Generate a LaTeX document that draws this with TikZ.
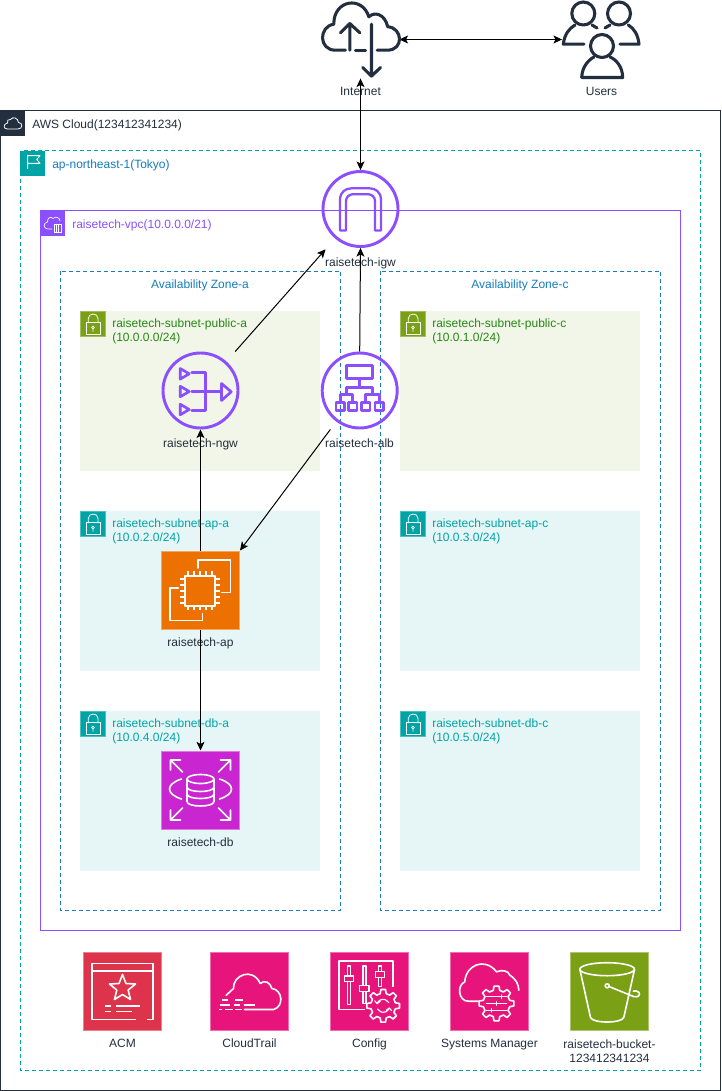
\documentclass[tikz,border=0pt]{standalone}
\usepackage{fontspec}
\setmainfont{Liberation Sans}
\usetikzlibrary{arrows.meta,calc}
\definecolor{ink}{HTML}{232F3E}
\definecolor{teal}{HTML}{00A4A6}
\definecolor{azblue}{HTML}{147EBA}
\definecolor{vpcp}{HTML}{8C4FFF}
\definecolor{pubg}{HTML}{7AA116}
\definecolor{pubt}{HTML}{248814}
\definecolor{pubf}{HTML}{F2F6E8}
\definecolor{prif}{HTML}{E6F6F7}
\definecolor{ec2c}{HTML}{ED7100}
\definecolor{rdsc}{HTML}{C925D1}
\definecolor{acmc}{HTML}{DD344C}
\definecolor{mgmt}{HTML}{E7157B}
\tikzset{
  txt/.style={font=\fontsize{9}{10.5}\selectfont,inner sep=0pt,align=left},
  lab/.style={txt,text=ink,align=center,anchor=base,yshift=-3.2pt},
  hdr/.style={txt,anchor=base west,yshift=-3.2pt},
  azl/.style={txt,text=azblue,anchor=base,yshift=-3.2pt},
  cont/.style={line width=0.75pt},
  subbox/.style={rectangle,inner sep=0pt,anchor=north west},
  badge/.style={rectangle,inner sep=0pt,minimum size=18.75pt,anchor=north west},
  svc/.style={rectangle,inner sep=0pt,minimum size=58.5pt,draw=#1!62!white,fill=#1,line width=0.75pt},
  ghost/.style={rectangle,inner sep=0pt,minimum size=58pt},
  wl/.style={draw=white,line width=1.2pt,line join=round,line cap=round},
  wt/.style={draw=white,line width=0.55pt,line join=round},
  pl/.style={draw=vpcp,line width=2pt,line join=round,line cap=round},
  dk/.style={draw=ink,line width=2.3pt,line join=round,line cap=round},
  conn/.style={draw=black,line width=0.75pt},
  tip/.style={{Stealth[length=6.5pt,width=6pt,inset=1.6pt]}-},
  pit/.style={-{Stealth[length=6.5pt,width=6pt,inset=1.6pt]}},
  both/.style={{Stealth[length=6.5pt,width=6pt,inset=1.6pt]}-{Stealth[length=6.5pt,width=6pt,inset=1.6pt]}},
}
\newcommand{\locksym}{%
  \draw[wt] (6,11.7) rectangle (20,23.3);
  \draw[wt] (8.3,11.7) -- (8.3,7.5) .. controls (8.3,1.5) and (18,1.5) .. (18,7.5) -- (18,11.7);
  \draw[wt] (13,16.5) circle[radius=1.4] (13,18) -- (13,20.5);
}
\newcommand{\subnet}[8]{% x, y, id, fill, badge, text colour, name, cidr
  \node[subbox,minimum width=180pt,minimum height=119.6pt,fill=#4] (#3) at (#1,#2) {};
  \node[badge,fill=#5,draw=#5!70!white,line width=0.4pt] (#3b) at (#1,#2) {};
  \begin{scope}[shift={(#1,#2)}]\locksym\end{scope}
  \node[txt,anchor=west,yshift=-0.5pt,text=#6] (#3t) at ($(#1,#2)+(32,20)$) {#7\\#8};
}
\begin{document}
\begin{tikzpicture}[x=0.75pt,y=-0.75pt]
\useasboundingbox (0,0) rectangle (721,1091);
\fill[white] (0,0) rectangle (721,1091);

% containers
\draw[cont,draw=ink] (0.5,111) rectangle (720.5,1090.5);
\node[badge,fill=ink] (cloudb) at (0,111) {};
\draw[wt,line width=0.6pt] (7.5,129) -- (18,129) .. controls (23,129) and (23,122.5) .. (18.5,122.5)
  .. controls (18,118) and (13,116) .. (10.5,119.5) .. controls (8,118.5) and (7,121) .. (7.5,123)
  .. controls (3,124) and (3,129) .. (7.5,129) -- cycle;
\node[hdr,text=ink] (cloudt) at (32,124) {AWS Cloud(123412341234)};

\draw[cont,draw=teal,dash pattern=on 3pt off 2.25pt] (20.5,151) rectangle (700.5,1070.5);
\node[badge,fill=teal] (regionb) at (20,151) {};
\draw[wt,line width=0.7pt] (27.7,169) -- (27.7,155) (27.7,155.7) -- (40,155.7) -- (36.7,159.5) -- (40,163.3) -- (27.7,163.3);
\node[hdr,text=azblue] (regiont) at (52,164) {ap-northeast-1(Tokyo)};

\draw[cont,draw=vpcp] (40.5,211) rectangle (680.5,930.5);
\node[badge,fill=vpcp] (vpcb) at (40,211) {};
\draw[wt,line width=0.5pt] (52,229) -- (48,229) .. controls (43,229) and (43,222.5) .. (47.5,222)
  .. controls (47,218) and (51,216) .. (53,218.5) .. controls (56,215.5) and (60,218) .. (60,221);
\draw[wt,line width=0.5pt] (54,224) rectangle (61,232) (56.3,224) -- (56.3,232) (58.7,224) -- (58.7,232);
\node[hdr,text=vpcp] (vpct) at (72,224) {raisetech-vpc(10.0.0.0/21)};

\draw[cont,draw=azblue,dash pattern=on 3pt off 2.25pt] (60.5,271) rectangle (340.5,910.5);
\draw[cont,draw=azblue,dash pattern=on 3pt off 2.25pt] (380.5,271) rectangle (660.5,910.5);
\node[azl] (aza) at (200,284) {Availability Zone-a};
\node[azl] (azc) at (520,284) {Availability Zone-c};

\subnet{80}{311}{spa}{pubf}{pubg}{pubt}{raisetech-subnet-public-a}{(10.0.0.0/24)}
\subnet{400}{311}{spc}{pubf}{pubg}{pubt}{raisetech-subnet-public-c}{(10.0.1.0/24)}
\subnet{80}{511}{saa}{prif}{teal}{teal}{raisetech-subnet-ap-a}{(10.0.2.0/24)}
\subnet{400}{511}{sac}{prif}{teal}{teal}{raisetech-subnet-ap-c}{(10.0.3.0/24)}
\subnet{80}{711}{sda}{prif}{teal}{teal}{raisetech-subnet-db-a}{(10.0.4.0/24)}
\subnet{400}{711}{sdc}{prif}{teal}{teal}{raisetech-subnet-db-c}{(10.0.5.0/24)}

% labels
\node[lab] (inetl) at (360.5,91) {Internet};
\node[lab] (usersl) at (601.5,91) {Users};
\node[lab] (igwl) at (360.5,262) {raisetech-igw};
\node[lab] (ngwl) at (200.5,443) {raisetech-ngw};
\node[lab] (albl) at (359.5,443) {raisetech-alb};
\node[lab] (apl) at (200.5,642) {raisetech-ap};
\node[lab] (dbl) at (200.5,842) {raisetech-db};
\node[lab] (acml) at (122.5,1043) {ACM};
\node[lab] (ctl) at (249.5,1043) {CloudTrail};
\node[lab] (cfgl) at (369.5,1043) {Config};
\node[lab] (ssml) at (489.5,1043) {Systems Manager};
\node[txt,text=ink,align=center] (s3l) at (609.5,1050.8) {raisetech-bucket-\\123412341234};

% service anchors and icons
\node[ghost] (inet) at (360.5,39.5) {};
\node[ghost] (users) at (601,39.5) {};
\node[ghost] (igw) at (360.5,209) {};
\node[ghost] (ngw) at (200.5,390.5) {};
\node[ghost] (alb) at (359.7,390.5) {};
\node[svc=ec2c] (ap) at (200.5,590) {};
\node[svc=rdsc] (db) at (200.5,790) {};
\node[svc=acmc] (acm) at (122.5,991.5) {};
\node[svc=mgmt] (ct) at (249.5,991.5) {};
\node[svc=mgmt] (cfg) at (369.5,991.5) {};
\node[svc=mgmt] (ssm) at (489.5,991.5) {};
\node[svc=pubg] (s3) at (609.5,991.5) {};

% connectors
\draw[conn,both] (inet.south) -- (igw.north);
\draw[conn,both] (inet.east) -- (users.west);
\draw[conn,pit] (alb.north) -- (igw.south);
\draw[conn,pit] ([xshift=-3.2pt]ngw.north east) -- ([xshift=3pt,yshift=-1pt]igw.south west);
\draw[conn,pit] ([xshift=7.2pt]alb.south west) -- (ap.north east);
\draw[conn,tip] (ngw.south) -- (ap.north);
\draw[conn,pit] (ap.south) -- (db.north);

% internet
\begin{scope}[shift={(inet.center)}]
\draw[dk] (-15,10.7) -- (-25,10.7) .. controls (-42,10.7) and (-42,-13) .. (-26.7,-15.3)
  .. controls (-27,-40) and (2,-44) .. (8.3,-22.7) .. controls (14,-28) and (24,-26) .. (27.3,-12.7)
  .. controls (42,-12) and (44,10.7) .. (26.7,10.7) -- (16.7,10.7);
\draw[dk] (-5,10.7) -- (5,10.7);
\draw[dk] (-10.7,10.7) -- (-10.7,-16) (-20,-6.7) -- (-10.7,-16) -- (-0.7,-6.7);
\draw[dk] (11,-15.3) -- (11,36.7) (2.3,28) -- (11,36.7) -- (20,28);
\end{scope}

% users
\begin{scope}[shift={(users.center)}]
\draw[dk] (-17.7,-26) circle[radius=11.5];
\draw[dk] (18,-26) circle[radius=11.5];
\draw[dk] (1,6.5) circle[radius=11.5];
\draw[dk] (-17,4.7) -- (-37.7,4.7) .. controls (-36.5,-5) and (-32,-11) .. (-26,-14.5);
\draw[dk] (-9,-14.5) -- (-4,-11.5);
\draw[dk] (9,-14.5) -- (4,-11.5);
\draw[dk] (27.3,-14.5) .. controls (33,-11) and (37,-5) .. (38,4.7) -- (19,4.7);
\draw[dk] (-19.3,38) .. controls (-19,27) and (-12,20) .. (-7,17.5) (9,17.5) .. controls (15,20) and (21.5,27) .. (21.7,38) -- (-19.3,38);
\end{scope}

% igw
\draw[pl,line width=2.2pt] (igw.center) circle[radius=37.5];
\begin{scope}[shift={(igw.center)}]
\draw[pl,line width=1.7pt] (-20.5,21.5) -- (-20.5,-9) .. controls (-20.5,-17) and (-15,-20.7) .. (-9,-20.7) -- (9,-20.7)
  .. controls (15,-20.7) and (20.5,-17) .. (20.5,-9) -- (20.5,21.5) -- (14.5,21.5) -- (14.5,-8)
  .. controls (14.5,-12) and (11,-14.7) .. (8,-14.7) -- (-8,-14.7) .. controls (-11,-14.7) and (-14.5,-12) .. (-14.5,-8)
  -- (-14.5,21.5) -- cycle;
\end{scope}

% ngw
\draw[pl,line width=2.2pt] (ngw.center) circle[radius=37.5];
\begin{scope}[shift={(ngw.center)}]
\foreach \yy in {-16.7,1,19} {
  \draw[pl] (-20.3,{\yy-5.3}) -- (-20.3,{\yy+5.3}) -- (-11.3,\yy) -- cycle;
}
\draw[pl] (-8.7,-17.7) -- (4.7,-17.7) -- (4.7,19.7) -- (-8.7,19.7) (-8.7,1.3) -- (21,1.3);
\draw[pl] (21,-7) -- (21,10) -- (30.7,1.3) -- cycle;
\end{scope}

% alb
\draw[pl,line width=2.2pt] (alb.center) circle[radius=37.5];
\begin{scope}[shift={(alb.center)}]
\draw[pl] (-13,-25) rectangle (13,-12);
\draw[pl] (0,-12) -- (0,-3) (-13,4) -- (-13,-3) -- (13,-3) -- (13,4);
\draw[pl] (-19.3,12) -- (-19.3,4) -- (-7,4) -- (-7,12);
\draw[pl] (6,12) -- (6,4) -- (19.7,4) -- (19.7,12);
\foreach \xx in {-19.3,-7,6,19.7} {
  \draw[pl] ({\xx-4.3},12) rectangle ({\xx+4.3},20);
}
\end{scope}

% ec2
\begin{scope}[shift={(ap.center)}]
\draw[wl] (-2.3,-22) -- (-2.3,-30.3) -- (30,-30.3) -- (30,2.3) -- (21,2.3);
\draw[wl] (-22.3,-2.3) -- (-30.7,-2.3) -- (-30.7,30.3) -- (2,30.3) -- (2,23.7);
\draw[wl] (-15.7,-14.3) rectangle (14.3,15.7);
\foreach \t in {-12.7,-6.7,-0.7,5.3,11.3} {
  \draw[wl,line cap=butt] (\t,-14.3) -- (\t,-19) (\t,15.7) -- (\t,20.4);
  \draw[wl,line cap=butt] (-15.7,{\t+1.7}) -- (-20.4,{\t+1.7}) (14.3,{\t+1.7}) -- (19,{\t+1.7});
}
\end{scope}

% rds
\begin{scope}[shift={(db.center)}]
\draw[wl] (-18,-18) -- (-30,-30) (-30,-20) -- (-30,-30) -- (-20,-30);
\draw[wl] (18,-18) -- (30,-30) (30,-20) -- (30,-30) -- (20,-30);
\draw[wl] (-18,18) -- (-30,30) (-30,20) -- (-30,30) -- (-20,30);
\draw[wl] (18,18) -- (30,30) (30,20) -- (30,30) -- (20,30);
\draw[wl] (-19,-11) .. controls (-35,-6) and (-35,4) .. (-19,9);
\draw[wl] (19,-11) .. controls (35,-6) and (35,4) .. (19,9);
\draw[wl] (0,-11) ellipse[x radius=13.5,y radius=4.5];
\draw[wl] (-13.5,-11) -- (-13.5,11.5) .. controls (-13.5,17.5) and (13.5,17.5) .. (13.5,11.5) -- (13.5,-11);
\draw[wl] (-13.5,-3) .. controls (-13.5,3) and (13.5,3) .. (13.5,-3);
\draw[wl] (-13.5,4) .. controls (-13.5,10) and (13.5,10) .. (13.5,4);
\end{scope}

% acm
\begin{scope}[shift={(acm.center)}]
\draw[wl,line cap=butt] (13.3,28) -- (-30.7,28) -- (-30.7,-28) -- (30.3,-28) -- (30.3,28) -- (24.3,28);
\draw[wl,line cap=butt] (-30.7,-20.3) -- (30.3,-20.3);
\draw[wl,line cap=butt] (0,-17) -- (3.5,-8) -- (13,-7.5) -- (5.7,-1.5) -- (8,8) -- (0,3) -- (-8,8) -- (-5.7,-1.5) -- (-13,-7.5) -- (-3.5,-8) -- cycle;
\draw[wl,line cap=butt] (-17.3,14.3) -- (-11.7,14.3) (-6.3,14.3) -- (17.7,14.3);
\draw[wl,line cap=butt] (-17.3,20) -- (-11.7,20) (-6.3,20) -- (9.3,20);
\end{scope}

% cloudtrail
\begin{scope}[shift={(ct.center)}]
\draw[wl] (-23.3,3.7) -- (-16,-3) .. controls (-17,-16) and (3,-25) .. (10.7,-8)
  .. controls (15,-12) and (21,-9) .. (22.3,-3) .. controls (33,-2) and (35,15) .. (24,18) -- (-5,18);
\draw[wl,line cap=butt] (-27.7,8.7) -- (-22,8.7) (-14.3,8.7) -- (-6.7,8.7);
\draw[wl,line cap=butt] (-30,13.3) -- (-19.3,13.3) (-16,13.3) -- (-10,13.3) (-6,13.3) -- (5.7,13.3);
\draw[wl,line cap=butt] (-31,18) -- (-27.7,18) (-24.3,18) -- (-16.7,18) (-14.3,18) -- (-7.7,18);
\end{scope}

% config
\begin{scope}[shift={(cfg.center)}]
\draw[wl,line cap=butt] (-4.7,18) -- (-30.7,18) -- (-30.7,-30.3) -- (23.7,-30.3) -- (23.7,-4.7);
\draw[wl,line cap=butt] (-22,-25.5) rectangle (-19,-15.5) (-22,-10) rectangle (-19,13);
\draw[wl,line cap=butt] (-25,-15.5) rectangle (-16,-10);
\draw[wl,line cap=butt] (-6.8,-25.5) rectangle (-3.8,-6) (-6.8,0) rectangle (-3.8,12);
\draw[wl,line cap=butt] (-10,-6) rectangle (-0.6,0);
\draw[wl,line cap=butt] (8.8,-25.5) rectangle (11.8,-20) (8.8,-14) rectangle (11.8,-5);
\draw[wl,line cap=butt] (5.8,-20) rectangle (14.8,-14);
\begin{scope}[shift={(13.7,14.3)}]
\filldraw[wl,fill=mgmt] (-8:16.5)
  \foreach \a in {0,45,...,315} { -- ({\a-8}:16.5) -- ({\a+8}:16.5) -- ({\a+14}:12.5) -- ({\a+31}:12.5) } -- cycle;
\draw[wl,line width=0.85pt] (200:6.5) arc[start angle=200,end angle=330,radius=6.5];
\draw[wl,line width=0.85pt] (20:6.5) arc[start angle=20,end angle=150,radius=6.5];
\draw[wl,line width=0.85pt] (-8.5,-5) -- (-6.1,-2.2) -- (-3,-4.5);
\draw[wl,line width=0.85pt] (8.5,5) -- (6.1,2.2) -- (3,4.5);
\end{scope}
\end{scope}

% systems manager
\begin{scope}[shift={(ssm.center)}]
\draw[wl] (-11.3,9.7) -- (-21.3,9.7) .. controls (-31,9.7) and (-33,-6) .. (-24.7,-9.7)
  .. controls (-24,-26) and (-5,-35) .. (7,-19.7) .. controls (12,-22) and (19,-21) .. (20.3,-16.3)
  .. controls (27,-12) and (29,-7) .. (29.3,-1.3);
\begin{scope}[shift={(7,12)}]
\filldraw[wl,fill=mgmt] (-8:17.5)
  \foreach \a in {0,45,...,315} { -- ({\a-8}:17.5) -- ({\a+8}:17.5) -- ({\a+14}:13.5) -- ({\a+31}:13.5) } -- cycle;
\draw[wl,line width=0.85pt] (-10,-6.7) -- (10,-6.7) (-10,0) -- (10,0) (-10,6.7) -- (10,6.7);
\draw[wl,line width=0.85pt] (5,-8.5) -- (5,-5) (0,-1.8) -- (0,1.8) (-5,5) -- (-5,8.5);
\end{scope}
\end{scope}

% s3
\begin{scope}[shift={(s3.center)}]
\draw[wl] (-2.3,-22.3) ellipse[x radius=27.3,y radius=6.5];
\draw[wl] (-29.6,-22) -- (-19,26) .. controls (-17,32) and (12,32) .. (14.3,26) -- (25,-22);
\draw[wl] (-2.3,-5.7) circle[radius=2];
\draw[wl] (-0.5,-5) -- (24,5) .. controls (29,6.5) and (31,3) .. (29.5,1) .. controls (28.5,-0.5) and (26,-1) .. (23.8,-0.5);
\end{scope}
\end{tikzpicture}
\end{document}
